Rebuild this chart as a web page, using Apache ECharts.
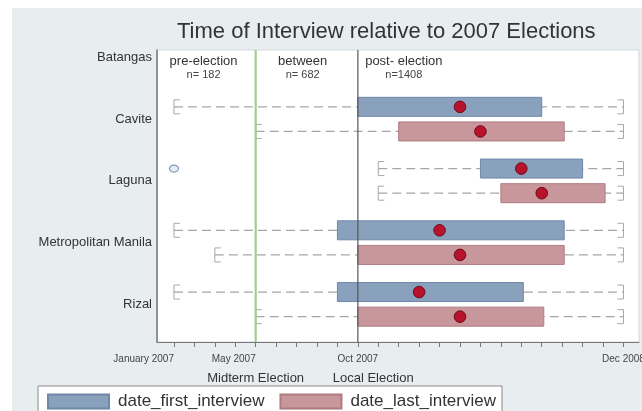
<!DOCTYPE html>
<html>
<head>
<meta charset="utf-8">
<script src="https://cdn.jsdelivr.net/npm/echarts@6/dist/echarts.min.js"></script>
<style>
  html, body { margin: 0; padding: 0; background: #fff; }
  #chart { width: 642px; height: 411px; background: #e8edf0; box-shadow: inset 12px 8px 0 0 #fff; }
</style>
</head>
<body>
<div id="chart"></div>
<script>
// Provinces, top to bottom (Batangas has no interviews drawn)
const provinces = ['Batangas', 'Cavite', 'Laguna', 'Metropolitan Manila', 'Rizal'];

// Interview dates in months after January 2007 (0 = Jan 2007, 22 = Dec 2008)
// Box plot summaries per province: lower whisker, Q1, median, Q3, upper whisker
const firstLow    = [null, 0,  10, 0,  0];
const firstQ1     = [null, 9,  15, 8,  8];
const firstMedian = [null, 14, 17, 13, 12];
const firstQ3     = [null, 18, 20, 19.1, 17.1];
const firstHigh   = [null, 22, 22, 22, 22];

const lastLow     = [null, 4,  10, 2,  4];
const lastQ1      = [null, 11, 16, 9,  9];
const lastMedian  = [null, 15, 18, 14, 14];
const lastQ3      = [null, 19.1, 21.1, 19.1, 18.1];
const lastHigh    = [null, 22, 22, 22, 22];

// Outside values of first interview: province index, month
const firstOutlierProvince = [2];
const firstOutlierMonth    = [0];

// Election dates and their notes
const electionMonths = [4, 9];
const electionNames  = ['Midterm Election', 'Local Election'];
const electionLabelAt = [4, 9.75];

// Axis labels
const monthTicks = Array.from({ length: 23 }, (_, i) => i);
const tickLabels  = ['January 2007', 'May 2007', 'Oct 2007', 'Dec 2008'];
const tickLabelAt = [0, 4, 9, 22];
const tickAlign   = ['right', 'right', 'center', 'center'];

// Period headings
const sectionNames   = ['pre-election', 'between', 'post- election'];
const sectionCounts  = ['n= 182', 'n= 682', 'n=1408'];
const sectionLabelAt = [1.45, 6.3, 11.25];

const FONT = '"Liberation Sans", Arial, sans-serif';
const GRID = { left: 157, top: 50, width: 482, height: 292 };
const BLUE = '#8aa1bd', BLUE_EDGE = '#6f88a8';
const RED = '#c8979b', RED_EDGE = '#b07a80';
const BOX_H = 19;
const ROW_SHIFT = 12.3;

function boxRows(low, q1, med, q3, high) {
  const rows = [];
  provinces.forEach((p, i) => {
    if (q1[i] != null) rows.push([i, low[i], q1[i], med[i], q3[i], high[i]]);
  });
  return rows;
}

function boxRenderer(shift, fill, stroke) {
  return function (params, api) {
    const row = api.value(0);
    const pLow = api.coord([api.value(1), row]);
    const xLow = pLow[0];
    const y = pLow[1] + shift;
    const xQ1 = api.coord([api.value(2), row])[0];
    const xMed = api.coord([api.value(3), row])[0];
    const xQ3 = api.coord([api.value(4), row])[0];
    const xHigh = api.coord([api.value(5), row])[0];
    const cap = { stroke: '#a8a8a8', lineWidth: 1, fill: null };
    return {
      type: 'group',
      children: [
        { type: 'line', shape: { x1: xLow, y1: y, x2: xHigh, y2: y },
          style: { stroke: '#a6a6a6', lineWidth: 1.3, lineDash: [9, 5] } },
        { type: 'polyline', shape: { points: [[xLow + 6, y - 7], [xLow, y - 7], [xLow, y + 7], [xLow + 6, y + 7]] }, style: cap },
        { type: 'polyline', shape: { points: [[xHigh - 6, y - 7], [xHigh, y - 7], [xHigh, y + 7], [xHigh - 6, y + 7]] }, style: cap },
        { type: 'rect', shape: { x: xQ1, y: y - BOX_H / 2, width: xQ3 - xQ1, height: BOX_H },
          style: { fill: fill, stroke: stroke, lineWidth: 1 } },
        { type: 'circle', shape: { cx: xMed, cy: y, r: 5.8 },
          style: { fill: '#b8122c', stroke: '#6e0d19', lineWidth: 1 } }
      ]
    };
  };
}

const chart = echarts.init(document.getElementById('chart'), null, { renderer: 'canvas' });

chart.setOption({
  animation: false,
  backgroundColor: 'transparent',
  textStyle: { fontFamily: FONT },
  title: {
    text: 'Time of Interview relative to 2007 Elections',
    left: 172, top: 16,
    textStyle: { fontFamily: FONT, fontSize: 22, fontWeight: 'normal', color: '#333' }
  },
  legend: {
    data: ['date_first_interview', 'date_last_interview'],
    left: 38, top: 386,
    icon: 'rect',
    itemWidth: 61, itemHeight: 14, itemGap: 15,
    padding: [7, 6, 7, 9],
    backgroundColor: '#fff', borderColor: '#8a8a8a', borderWidth: 1,
    textStyle: { fontFamily: FONT, fontSize: 17, color: '#333', padding: [0, 0, 0, 4] }
  },
  grid: {
    left: GRID.left, top: GRID.top, width: GRID.width, height: GRID.height,
    show: true, backgroundColor: '#fff', borderColor: '#d3d9dc', borderWidth: 1
  },
  xAxis: {
    type: 'value', min: -0.83, max: 22.76,
    axisLine: { show: true, onZero: false, lineStyle: { color: '#777', width: 1 } },
    axisTick: { show: true, customValues: monthTicks, length: 5, lineStyle: { color: '#777' } },
    axisLabel: { show: false },
    splitLine: { show: false }
  },
  yAxis: {
    type: 'value', inverse: true, min: -0.12, max: 4.61,
    axisLine: { show: true, onZero: false, lineStyle: { color: '#777', width: 1.5 } },
    axisTick: { show: false },
    axisLabel: {
      customValues: provinces.map((_, i) => i),
      formatter: v => provinces[Math.round(v)],
      fontFamily: FONT, fontSize: 13, color: '#333', margin: 5,
      padding: [4, 0, 0, 0]
    },
    splitLine: { show: false }
  },
  series: [
    {
      type: 'custom', name: 'date_first_interview',
      itemStyle: { color: BLUE, borderColor: BLUE_EDGE, borderWidth: 1 },
      encode: { x: [1, 2, 3, 4, 5], y: 0 },
      data: boxRows(firstLow, firstQ1, firstMedian, firstQ3, firstHigh),
      renderItem: boxRenderer(-ROW_SHIFT, BLUE, BLUE_EDGE),
      z: 2
    },
    {
      type: 'custom', name: 'date_last_interview',
      itemStyle: { color: RED, borderColor: RED_EDGE, borderWidth: 1 },
      encode: { x: [1, 2, 3, 4, 5], y: 0 },
      data: boxRows(lastLow, lastQ1, lastMedian, lastQ3, lastHigh),
      renderItem: boxRenderer(ROW_SHIFT, RED, RED_EDGE),
      z: 2
    },
    {
      type: 'custom', name: 'first_outliers',
      encode: { x: 1, y: 0 },
      data: firstOutlierProvince.map((p, i) => [p, firstOutlierMonth[i]]),
      renderItem: (params, api) => {
        const pt = api.coord([api.value(1), api.value(0)]);
        return { type: 'ellipse', shape: { cx: pt[0], cy: pt[1] - ROW_SHIFT, rx: 4.5, ry: 3.5 },
                 style: { fill: '#e6ecf4', stroke: '#7d95b4', lineWidth: 1.2 } };
      },
      z: 3
    },
    {
      type: 'custom', name: 'elections', silent: true,
      encode: { x: 0, y: 1 },
      data: electionMonths.map((m, i) => [m, i]),
      renderItem: (params, api) => {
        const x = api.coord([api.value(0), 0])[0];
        const cs = params.coordSys;
        const first = api.value(1) === 0;
        return { type: 'line', shape: { x1: x, y1: cs.y, x2: x, y2: cs.y + cs.height },
                 style: { stroke: first ? '#9fcf8e' : '#555', lineWidth: first ? 2.2 : 1.4, opacity: first ? 1 : 0.85 } };
      },
      z: 5
    }
  ]
});

// Text placed along the time scale: tick labels, election notes, period headings
const px = v => chart.convertToPixel({ xAxisIndex: 0 }, v);
const bottom = GRID.top + GRID.height;
const texts = [];

tickLabels.forEach((t, i) => {
  texts.push({
    type: 'text', x: px(tickLabelAt[i]), y: bottom + 17,
    style: { text: t, font: '10px ' + FONT, fill: '#444',
             align: tickAlign[i], textAlign: tickAlign[i], verticalAlign: 'middle', textVerticalAlign: 'middle' }
  });
});

electionNames.forEach((t, i) => {
  texts.push({
    type: 'text', x: px(electionLabelAt[i]), y: bottom + 36,
    style: { text: t, font: '13px ' + FONT, fill: '#333',
             align: 'center', textAlign: 'center', verticalAlign: 'middle', textVerticalAlign: 'middle' }
  });
});

sectionNames.forEach((t, i) => {
  texts.push({
    type: 'text', x: px(sectionLabelAt[i]), y: GRID.top + 4, z: 10,
    style: {
      text: '{a|' + t + '}\n{b|' + sectionCounts[i] + '}',
      align: 'center', textAlign: 'center', verticalAlign: 'top', textVerticalAlign: 'top',
      rich: {
        a: { fontFamily: FONT, fontSize: 13, lineHeight: 15, fill: '#333', color: '#333', align: 'center' },
        b: { fontFamily: FONT, fontSize: 11, lineHeight: 12, fill: '#444', color: '#444', align: 'center' }
      }
    }
  });
});

chart.setOption({ graphic: texts });
</script>
</body>
</html>
